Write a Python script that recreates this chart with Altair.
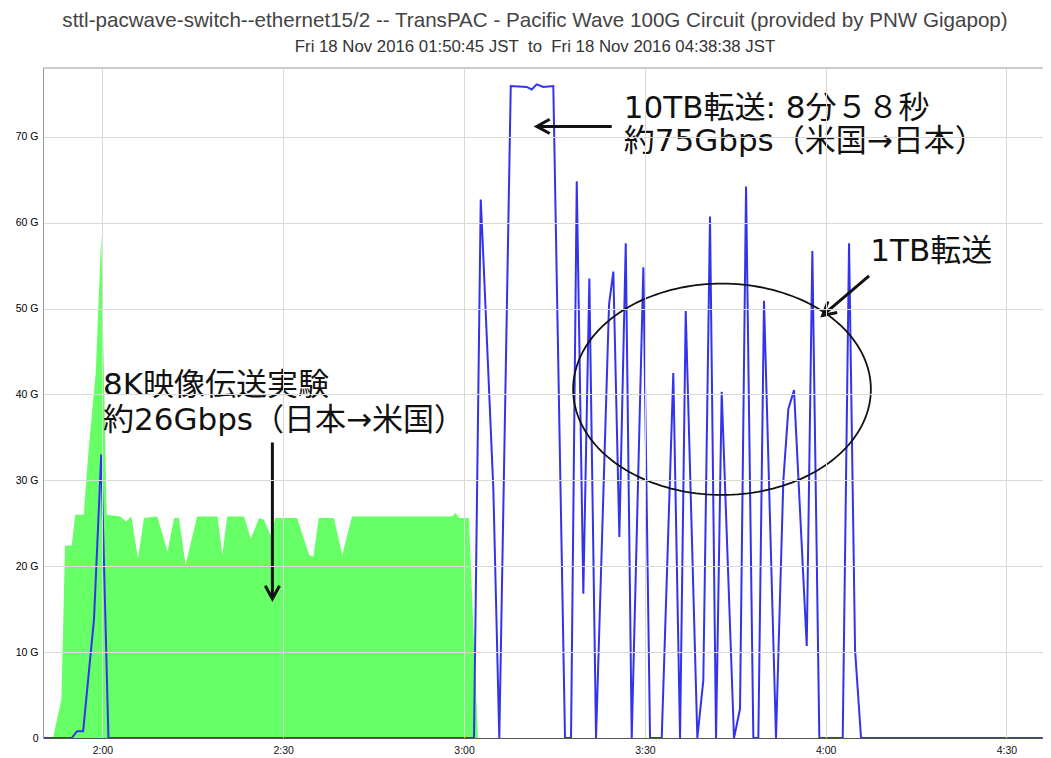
import altair as alt
import pandas as pd
import numpy as np

# ---- data (time = minutes after 00:00 JST, value = Gbps) ----
green_t = [110.3, 111.8, 113.2, 113.8, 114.9, 115.5, 116.9, 117.7, 118.9, 119.8,
           120.7, 123.0, 123.9, 124.8, 125.9, 126.9, 129.1, 130.8, 131.9, 132.7,
           133.8, 135.7, 139.1, 139.9, 140.7, 143.5, 144.6, 146.0, 146.8, 147.9,
           148.7, 152.3, 154.3, 155.0, 155.9, 158.4, 159.8, 161.4, 178.0, 178.6,
           179.2, 180.8, 182.3, 276.0]
green_v = [0, 0, 4.5, 22.4, 22.4, 26.0, 26.0, 33.5, 42.6, 58.6,
           26.0, 25.8, 25.2, 25.8, 20.9, 25.6, 25.8, 21.7, 25.6, 25.6,
           20.1, 25.8, 25.8, 21.3, 25.8, 25.8, 23.2, 25.6, 25.4, 23.6,
           25.6, 25.6, 21.3, 21.1, 25.6, 25.6, 21.3, 25.8, 25.8, 26.2,
           25.6, 25.6, 0, 0]

blue_t = [110.3, 114.9, 115.8, 116.8, 118.6, 119.8, 121.0, 181.65, 182.77, 183.20,
          184.86, 185.85, 187.75, 190.40, 191.23, 192.06, 193.15, 194.81, 196.75, 197.75,
          198.70, 199.79, 200.79, 201.90, 204.06, 204.77, 205.77, 206.83, 207.82, 209.75,
          210.86, 212.80, 214.72, 215.84, 216.78, 218.71, 219.70, 220.81, 221.81, 222.75,
          224.79, 225.79, 226.79, 228.00, 228.83, 229.77, 231.76, 232.98, 233.81, 234.75,
          236.86, 237.79, 238.95, 242.83, 243.88, 244.88, 245.87, 276.0]
blue_v = [0, 0, 0.8, 0.8, 13.8, 33.0, 0, 0, 62.7, 56.0,
          29.0, 0, 75.9, 75.8, 75.5, 76.1, 75.8, 75.9, 0, 0,
          64.8, 16.8, 53.5, 0, 50.5, 54.3, 23.4, 57.6, 0, 54.8,
          0, 0, 42.5, 0, 49.7, 0, 6.7, 60.7, 0, 40.3,
          0, 3.4, 64.2, 0, 0, 50.9, 0, 30.0, 38.3, 40.5,
          10.7, 56.7, 0, 0, 57.6, 10.2, 0, 0]

x_ticks = [120, 150, 180, 210, 240, 270]
x_labels = ["2:00", "2:30", "3:00", "3:30", "4:00", "4:30"]
y_ticks = [0, 10, 20, 30, 40, 50, 60, 70]
y_labels = ["0", "10 G", "20 G", "30 G", "40 G", "50 G", "60 G", "70 G"]

X_DOMAIN = [110.14, 276.06]
Y_DOMAIN = [0, 78]

title_text = "sttl-pacwave-switch--ethernet15/2 -- TransPAC - Pacific Wave 100G Circuit (provided by PNW Gigapop)"
subtitle_text = "Fri 18 Nov 2016 01:50:45 JST\u00a0 to\u00a0 Fri 18 Nov 2016 04:38:38 JST"

# annotations (data coordinates)
ann_text = ["10TB転送: 8分５８秒", "約75Gbps（米国→日本）", "8K映像伝送実験", "約26Gbps（日本→米国）", "1TB転送"]
ann_t = [206.5, 206.5, 120.1, 120.1, 247.4]
ann_v = [72.2, 68.3, 39.9, 35.9, 55.5]

arrow_t = [204.50, 148.2, 247.2]
arrow_v = [71.2, 34.4, 53.8]
arrow_t2 = [192.06, 148.2, 239.5]
arrow_v2 = [71.2, 16.2, 49.2]
arrow_angle = [0, 270, 319.9]

ell_center = (222.8, 40.6)
ell_radius = (24.7, 12.3)

# ---- tables ----
green_df = pd.DataFrame({"t": green_t, "v": green_v})
blue_df = pd.DataFrame({"t": blue_t, "v": blue_v})
ann_df = pd.DataFrame({"label": ann_text, "t": ann_t, "v": ann_v})
arrow_df = pd.DataFrame({"t": arrow_t, "v": arrow_v, "t2": arrow_t2, "v2": arrow_v2})
head_df = pd.DataFrame({"t": arrow_t2, "v": arrow_v2, "angle": arrow_angle})
theta = np.linspace(0, 2 * np.pi, 181)
ell_df = pd.DataFrame({
    "t": ell_center[0] + ell_radius[0] * np.cos(theta),
    "v": ell_center[1] + ell_radius[1] * np.sin(theta),
    "i": np.arange(len(theta)),
})
top_df = pd.DataFrame({"t": [X_DOMAIN[0]], "t2": [X_DOMAIN[1]], "v": [Y_DOMAIN[1]]})

x_label_expr = "[" + ",".join("'%s'" % s for s in x_labels) + "][indexof([" + ",".join(str(v) for v in x_ticks) + "], datum.value)]"
y_label_expr = "[" + ",".join("'%s'" % s for s in y_labels) + "][indexof([" + ",".join(str(v) for v in y_ticks) + "], datum.value)]"

x_enc = alt.X("t:Q", scale=alt.Scale(domain=X_DOMAIN, nice=False, zero=False),
              axis=alt.Axis(values=x_ticks, labelExpr=x_label_expr, title=None,
                            grid=True, gridColor="#d9d9d9", ticks=False, tickSize=0,
                            domainColor="#555555", labelFont="Liberation Sans",
                            labelFontSize=10.5, labelColor="#111111", labelPadding=7,
                            zindex=1))
y_enc = alt.Y("v:Q", scale=alt.Scale(domain=Y_DOMAIN, nice=False),
              axis=alt.Axis(values=y_ticks, labelExpr=y_label_expr, title=None,
                            grid=True, gridColor="#d9d9d9", ticks=False, tickSize=0,
                            domain=True, domainColor="#999999", labelFont="Liberation Sans",
                            labelFontSize=10.5, labelColor="#000000", labelPadding=5,
                            zindex=1))

green = alt.Chart(green_df).mark_area(color="#66ff66", opacity=1).encode(x=x_enc, y=y_enc)
blue = alt.Chart(blue_df).mark_line(color="#3333ee", strokeWidth=2).encode(x="t:Q", y="v:Q")
top_border = alt.Chart(top_df).mark_rule(color="#999999", strokeWidth=1).encode(
    x="t:Q", x2="t2:Q", y="v:Q")
ellipse = alt.Chart(ell_df).mark_line(color="#111111", strokeWidth=1.8).encode(
    x="t:Q", y="v:Q", order="i:Q")
arrows = alt.Chart(arrow_df).mark_rule(color="#111111", strokeWidth=3).encode(
    x="t:Q", y="v:Q", x2="t2:Q", y2="v2:Q")
heads = alt.Chart(head_df).mark_point(
    shape="M 1 -0.55 L 0 0 L 1 0.55", filled=False, size=676, strokeWidth=3,
    color="#111111", opacity=1).encode(
    x="t:Q", y="v:Q", angle=alt.Angle("angle:Q", scale=None))
texts = alt.Chart(ann_df).mark_text(
    align="left", baseline="alphabetic", font="DejaVu Sans, Noto Sans CJK JP",
    fontSize=31, color="#111111").encode(x="t:Q", y="v:Q", text="label:N")

chart = alt.layer(green, blue, top_border, ellipse, arrows, heads, texts).properties(
    width=1000, height=670,
    autosize=alt.AutoSizeParams(type="none"),
    padding={"left": 35, "top": 60, "right": 0, "bottom": 22},
    title=alt.TitleParams(
        text=title_text, subtitle=subtitle_text, anchor="middle", dx=-8,
        font="Liberation Sans", fontSize=20.6, fontWeight="normal", color="#444444",
        subtitleFont="Liberation Sans", subtitleFontSize=16.8, subtitleColor="#333333",
        offset=12, subtitlePadding=7),
).configure_view(stroke=None)

chart.save("out.html", embed_options={"renderer": "svg", "actions": False})
